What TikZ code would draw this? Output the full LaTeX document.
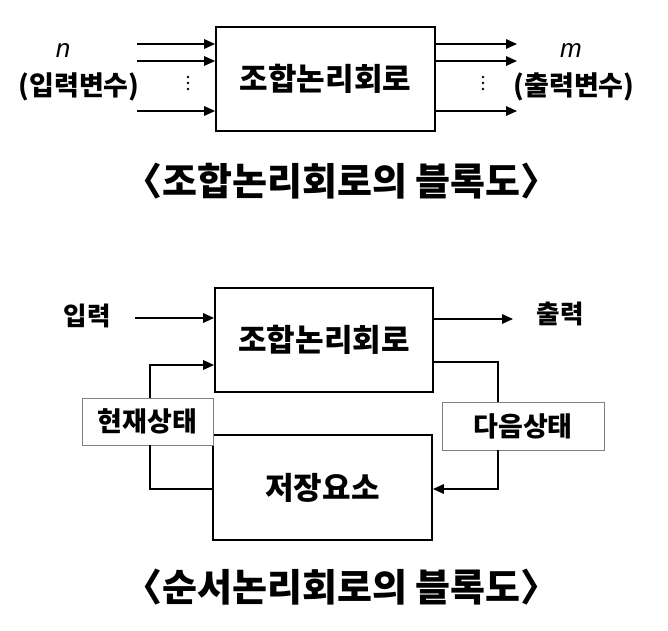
\documentclass[tikz,border=0pt]{standalone}
\usepackage{fontspec}
\setmainfont{Liberation Sans}
\newfontfamily\kr{Noto Sans CJK KR}
\usetikzlibrary{arrows.meta}
\tikzset{
  blockbox/.style={draw=black, line width=1.8pt, fill=white, inner sep=0pt},
  statebox/.style={draw=black!50, line width=0.9pt, fill=white, inner sep=0pt},
  arr/.style={line width=1.6pt, -{Triangle[length=11pt,width=9.5pt]}},
  ln/.style={line width=1.6pt},
  boxtext/.style={font=\kr\bfseries\fontsize{31}{33}\selectfont},
  lbltext/.style={font=\kr\bfseries\fontsize{27}{29}\selectfont},
  smalltext/.style={font=\kr\bfseries\fontsize{25.5}{28}\selectfont},
  titletext/.style={font=\kr\bfseries\fontsize{38}{40}\selectfont},
  vartext/.style={font=\itshape\fontsize{26}{28}\selectfont},
  dotmark/.style={fill=black, circle, inner sep=0pt, minimum size=2.8pt}
}
\begin{document}
\begin{tikzpicture}[x=1pt,y=-1pt]
\useasboundingbox (0,0) rectangle (668,630);
% ---------- combinational block ----------
\node[blockbox, minimum width=219pt, minimum height=104pt, boxtext] (comb) at (325.5,79) {조합논리회로};
\coordinate (i1) at (137,44);
\coordinate (i2) at (137,61);
\coordinate (i3) at (137,111);
\coordinate (o1) at (517,44);
\coordinate (o2) at (517,61);
\coordinate (o3) at (517,111);
\draw[arr] (i1) -- (i1 -| comb.west);
\draw[arr] (i2) -- (i2 -| comb.west);
\draw[arr] (i3) -- (i3 -| comb.west);
\draw[arr] (o1 -| comb.east) -- (o1);
\draw[arr] (o2 -| comb.east) -- (o2);
\draw[arr] (o3 -| comb.east) -- (o3);
\node[dotmark] (ld1) at (188,77) {};
\node[dotmark] (ld2) at (188,83) {};
\node[dotmark] (ld3) at (188,89) {};
\node[dotmark] (rd1) at (483,77) {};
\node[dotmark] (rd2) at (483,83) {};
\node[dotmark] (rd3) at (483,89) {};
\node[vartext] (n) at (63,51) {n};
\node[lbltext] (invar) at (79,87) {(입력변수)};
\node[vartext] (m) at (571,51) {m};
\node[lbltext] (outvar) at (574,87) {(출력변수)};
\node[titletext] (title1) at (341.5,181) {〈조합논리회로의 블록도〉};
% ---------- sequential block ----------
\node[blockbox, minimum width=218pt, minimum height=104pt, boxtext] (comb2) at (324,340) {조합논리회로};
\node[blockbox, minimum width=219pt, minimum height=105pt, boxtext] (mem) at (322.5,487.5) {저장요소};
\node[statebox, minimum width=131pt, minimum height=47pt, lbltext] (cur) at (147.5,421.5) {현재상태};
\node[statebox, minimum width=162pt, minimum height=48pt, lbltext] (nxt) at (523,426) {다음상태};
\node[smalltext] (inlbl) at (87,316) {입력};
\node[smalltext] (outlbl) at (560,314) {출력};
\coordinate (inS) at (135,318);
\coordinate (outE) at (513,319);
\coordinate (lx) at (150,0);
\coordinate (rx) at (498,0);
\coordinate (fbin) at (0,365);
\coordinate (fbout) at (0,362);
\coordinate (lowy) at (0,489);
\draw[arr] (inS) -- (inS -| comb2.west);
\draw[arr] (outE -| comb2.east) -- (outE);
\draw[arr] (lx |- cur.north) |- (fbin -| comb2.west);
\draw[ln] (lx |- cur.south) |- (lowy -| mem.west);
\draw[ln] (fbout -| comb2.east) -| (rx |- nxt.north);
\draw[arr] (rx |- nxt.south) |- (lowy -| mem.east);
\node[titletext] (title2) at (341.5,587) {〈순서논리회로의 블록도〉};
\end{tikzpicture}
\end{document}
